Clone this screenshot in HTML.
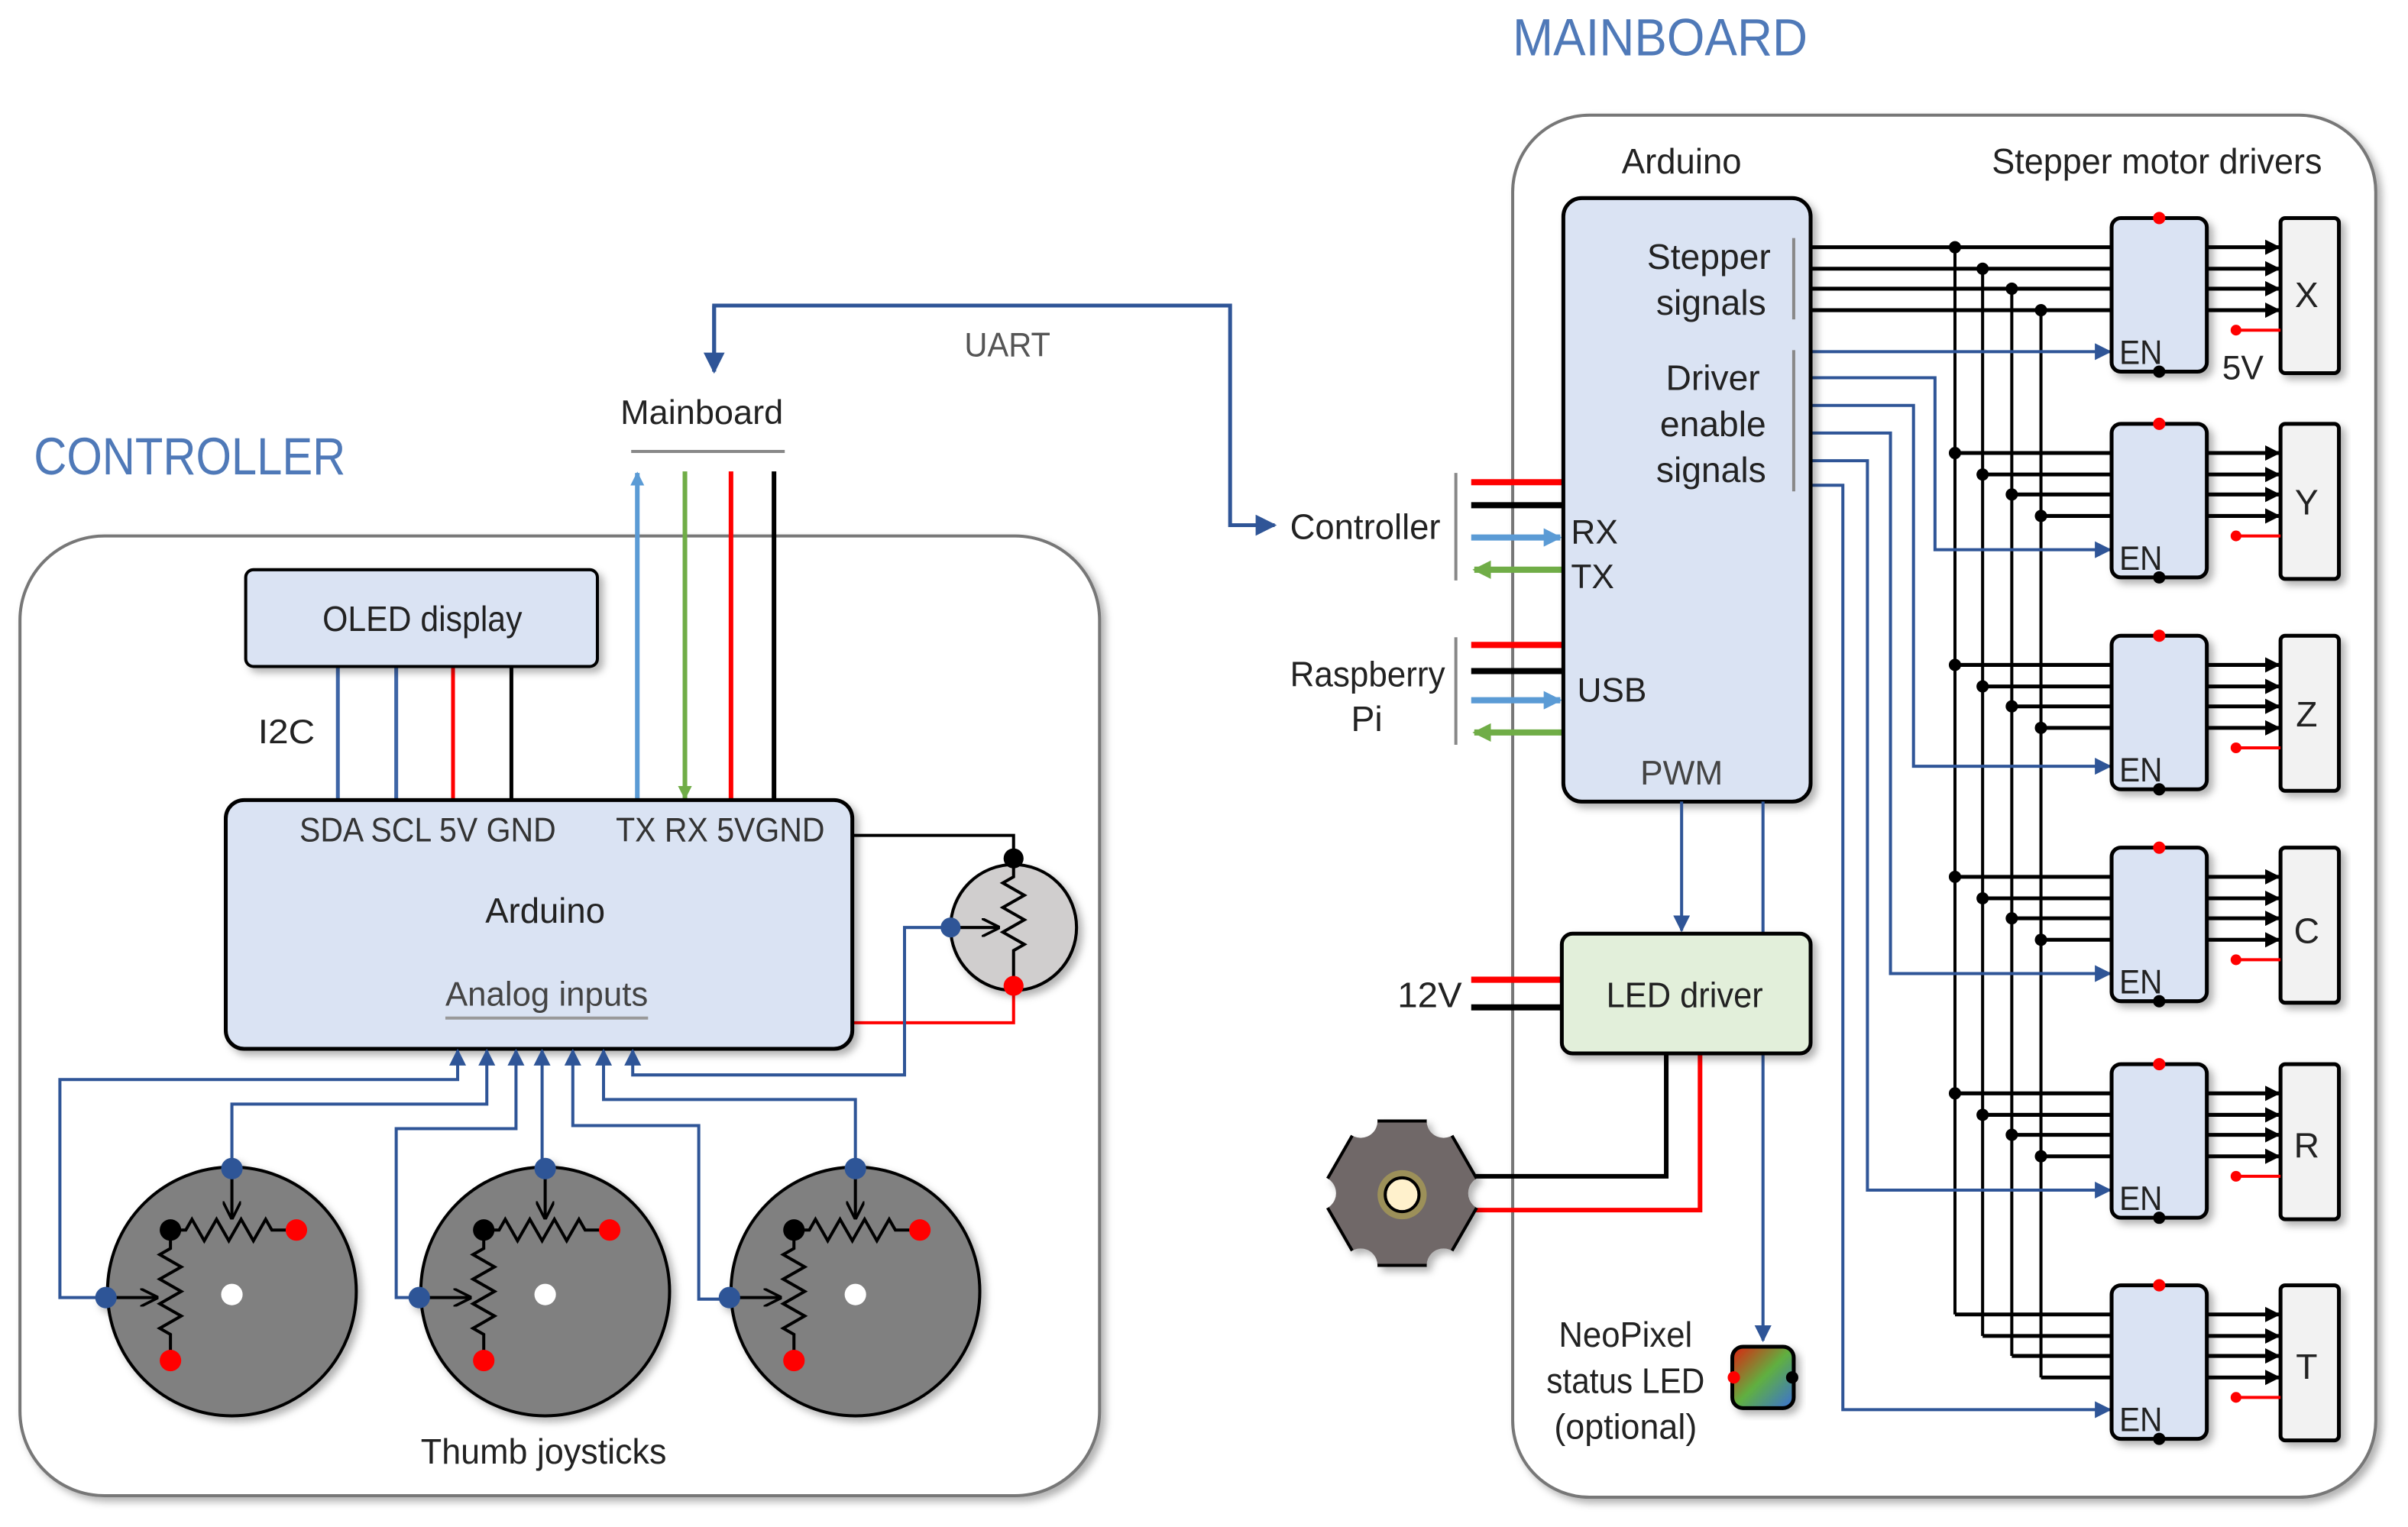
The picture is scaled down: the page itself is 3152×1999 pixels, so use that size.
<!DOCTYPE html>
<html><head><meta charset="utf-8">
<style>
html,body{margin:0;padding:0;background:#fff;}
svg{display:block;}
text{font-family:"Liberation Sans Narrow","Liberation Sans",sans-serif;fill:#222;}
</style></head>
<body>
<svg width="3152" height="1999" viewBox="0 0 1568 994.4" preserveAspectRatio="none" xmlns="http://www.w3.org/2000/svg">
<defs>
<filter id="sh" x="-10%" y="-10%" width="130%" height="130%">
<feDropShadow dx="3" dy="3" stdDeviation="2.5" flood-color="#000" flood-opacity="0.3"/>
</filter>
<marker id="ab" viewBox="0 0 10 10" refX="9" refY="5" markerWidth="5.5" markerHeight="5.5" orient="auto"><path d="M0,0 L10,5 L0,10z" fill="#2f5597"/></marker>
<marker id="ak" viewBox="0 0 10 10" refX="9" refY="5" markerWidth="4" markerHeight="4" orient="auto"><path d="M0,0 L10,5 L0,10z" fill="#000"/></marker>
<marker id="alb" viewBox="0 0 10 10" refX="9" refY="5" markerWidth="3" markerHeight="3" orient="auto"><path d="M0,0 L10,5 L0,10z" fill="#5b9bd5"/></marker>
<marker id="ag" viewBox="0 0 10 10" refX="9" refY="5" markerWidth="3" markerHeight="3" orient="auto"><path d="M0,0 L10,5 L0,10z" fill="#70ad47"/></marker>
<marker id="ov" viewBox="0 0 10 10" refX="9" refY="5" markerWidth="6" markerHeight="6" orient="auto"><path d="M0,0 L10,5 L0,10" fill="none" stroke="#000" stroke-width="1.5"/></marker>
<linearGradient id="rgb" x1="0" y1="0" x2="1" y2="1"><stop offset="0" stop-color="#e02010"/><stop offset="0.5" stop-color="#60b040"/><stop offset="1" stop-color="#3a6fd8"/></linearGradient>
<g id="joy">
<circle r="81" fill="#808080" stroke="#000" stroke-width="2"/>
<path d="M-40,-40 h10 l4,-7 l8,14 l8,-14 l8,14 l8,-14 l8,14 l8,-14 l4,7 h16" fill="none" stroke="#000" stroke-width="2"/>
<path d="M-40,-40 v12 l-7,4 l14,8 l-14,8 l14,8 l-14,8 l14,8 l-14,8 l7,4 v17" fill="none" stroke="#000" stroke-width="2"/>
<line x1="0" y1="-80" x2="0" y2="-48" stroke="#000" stroke-width="2" marker-end="url(#ov)"/>
<line x1="-82" y1="4" x2="-49" y2="4" stroke="#000" stroke-width="2" marker-end="url(#ov)"/>
<circle cx="-40" cy="-40" r="7" fill="#000"/>
<circle cx="42" cy="-40" r="7" fill="#f00"/>
<circle cx="-40" cy="45" r="7" fill="#f00"/>
<circle cx="0" cy="-80" r="7" fill="#2f5597"/>
<circle cx="-82" cy="4" r="7" fill="#2f5597"/>
<circle cx="0" cy="2" r="7" fill="#fff"/>
</g>
<g id="drv">
<rect x="1375" y="0" width="62" height="100" rx="6" fill="#dae3f3" stroke="#000" stroke-width="2.5" filter="url(#sh)"/>
<rect x="1485" y="0" width="38" height="101" rx="3" fill="#f2f2f2" stroke="#000" stroke-width="2.5" filter="url(#sh)"/>
<g stroke="#000" stroke-width="2.5" marker-end="url(#ak)">
<line x1="1437" y1="19" x2="1484" y2="19"/><line x1="1437" y1="33" x2="1484" y2="33"/>
<line x1="1437" y1="46" x2="1484" y2="46"/><line x1="1437" y1="60" x2="1484" y2="60"/>
</g>
<line x1="1456" y1="73" x2="1485" y2="73" stroke="#f00" stroke-width="2"/>
<circle cx="1456" cy="73" r="3.5" fill="#f00"/>
<circle cx="1406" cy="0" r="4" fill="#f00"/>
<circle cx="1406" cy="100" r="4" fill="#000"/>
<text x="1380" y="95" font-size="22" textLength="28" lengthAdjust="spacingAndGlyphs">EN</text>
</g>
</defs>

<!-- titles -->
<text x="985" y="36" font-size="34" textLength="192" lengthAdjust="spacingAndGlyphs" style="fill:#4f79b8">MAINBOARD</text>
<text x="22" y="309" font-size="34" textLength="203" lengthAdjust="spacingAndGlyphs" style="fill:#4f79b8">CONTROLLER</text>

<!-- controller box -->
<rect x="13" y="349" width="703" height="625" rx="55" fill="#fff" stroke="#777" stroke-width="2" filter="url(#sh)"/>

<!-- UART -->
<path d="M465,242 V199 H801 V342 H830" fill="none" stroke="#2f5597" stroke-width="2.5" marker-end="url(#ab)"/>
<path d="M465,199 V242" fill="none" stroke="#2f5597" stroke-width="2.5" marker-end="url(#ab)"/>
<text x="628" y="232" font-size="22" textLength="56" lengthAdjust="spacingAndGlyphs" style="fill:#555">UART</text>
<text x="404" y="276" font-size="22" textLength="106" lengthAdjust="spacingAndGlyphs">Mainboard</text>
<line x1="411" y1="294" x2="511" y2="294" stroke="#888" stroke-width="2"/>

<!-- controller wires to mainboard -->
<line x1="415" y1="521" x2="415" y2="308" stroke="#5b9bd5" stroke-width="3" marker-end="url(#alb)"/>
<line x1="446" y1="307" x2="446" y2="520" stroke="#70ad47" stroke-width="3" marker-end="url(#ag)"/>
<line x1="476" y1="307" x2="476" y2="521" stroke="#f00" stroke-width="3"/>
<line x1="504" y1="307" x2="504" y2="521" stroke="#000" stroke-width="3"/>

<!-- OLED -->
<line x1="220" y1="434" x2="220" y2="521" stroke="#3e65a6" stroke-width="2.5"/>
<line x1="258" y1="434" x2="258" y2="521" stroke="#3e65a6" stroke-width="2.5"/>
<line x1="295" y1="434" x2="295" y2="521" stroke="#f00" stroke-width="2.5"/>
<line x1="333" y1="434" x2="333" y2="521" stroke="#000" stroke-width="2.5"/>
<rect x="160" y="371" width="229" height="63" rx="5" fill="#dae3f3" stroke="#000" stroke-width="2" filter="url(#sh)"/>
<text x="210" y="411" font-size="23" textLength="130" lengthAdjust="spacingAndGlyphs">OLED display</text>
<text x="168" y="484" font-size="22" textLength="37" lengthAdjust="spacingAndGlyphs">I2C</text>

<!-- pot wires -->
<path d="M555,544 H660 V559" fill="none" stroke="#000" stroke-width="2"/>
<path d="M555,666 H660 V642" fill="none" stroke="#f00" stroke-width="2"/>

<!-- controller arduino -->
<rect x="147" y="521" width="408" height="162" rx="12" fill="#dae3f3" stroke="#000" stroke-width="2.5" filter="url(#sh)"/>
<text x="195" y="548" font-size="22" textLength="167" lengthAdjust="spacingAndGlyphs" style="fill:#333">SDA SCL 5V GND</text>
<text x="401" y="548" font-size="22" textLength="136" lengthAdjust="spacingAndGlyphs" style="fill:#333">TX RX 5VGND</text>
<text x="316" y="601" font-size="23" textLength="78" lengthAdjust="spacingAndGlyphs">Arduino</text>
<text x="290" y="655" font-size="22" textLength="132" lengthAdjust="spacingAndGlyphs" style="fill:#444">Analog inputs</text>
<line x1="290" y1="663" x2="422" y2="663" stroke="#999" stroke-width="2"/>

<!-- pot -->
<circle cx="660" cy="604" r="41" fill="#d0cece" stroke="#000" stroke-width="2" filter="url(#sh)"/>
<path d="M660,559 v12 l-7,4 l14,8 l-14,8 l14,8 l-14,8 l14,8 l-7,4 v21" fill="none" stroke="#000" stroke-width="2"/>
<line x1="619" y1="604" x2="650" y2="604" stroke="#000" stroke-width="2" marker-end="url(#ov)"/>
<circle cx="660" cy="559" r="6.5" fill="#000"/>
<circle cx="660" cy="642" r="6.5" fill="#f00"/>
<circle cx="619" cy="604" r="6.5" fill="#2f5597"/>

<!-- analog input wires -->
<g fill="none" stroke="#2f5597" stroke-width="2" marker-end="url(#ab)">
<path d="M69,845 H39 V703 H298 V684"/>
<path d="M151,761 V719 H317 V684"/>
<path d="M273,845 H258 V735 H336 V684"/>
<path d="M353,761 V684"/>
<path d="M476,846 H455 V733 H373 V684"/>
<path d="M557,761 V716 H393 V684"/>
<path d="M619,604 H589 V700 H412 V684"/>
</g>

<!-- joysticks -->
<use href="#joy" x="151" y="841" filter="url(#sh)"/>
<use href="#joy" x="355" y="841" filter="url(#sh)"/>
<use href="#joy" x="557" y="841" filter="url(#sh)"/>
<text x="274" y="953" font-size="23" textLength="160" lengthAdjust="spacingAndGlyphs">Thumb joysticks</text>

<!-- MAINBOARD box -->
<rect x="985" y="75" width="562" height="900" rx="50" fill="#fff" stroke="#777" stroke-width="2" filter="url(#sh)"/>
<text x="1056" y="113" font-size="23" textLength="78" lengthAdjust="spacingAndGlyphs">Arduino</text>
<text x="1297" y="113" font-size="23" textLength="215" lengthAdjust="spacingAndGlyphs">Stepper motor drivers</text>

<!-- Controller connector -->
<text x="840" y="351" font-size="23" textLength="98" lengthAdjust="spacingAndGlyphs">Controller</text>
<line x1="948" y1="308" x2="948" y2="378" stroke="#888" stroke-width="2"/>
<line x1="958" y1="314" x2="1018" y2="314" stroke="#f00" stroke-width="4"/>
<line x1="958" y1="329" x2="1018" y2="329" stroke="#000" stroke-width="4"/>
<line x1="958" y1="350" x2="1016" y2="350" stroke="#5b9bd5" stroke-width="4" marker-end="url(#alb)"/>
<line x1="1018" y1="371" x2="960" y2="371" stroke="#70ad47" stroke-width="4" marker-end="url(#ag)"/>
<text x="840" y="447" font-size="23" textLength="101" lengthAdjust="spacingAndGlyphs">Raspberry</text>
<text x="890" y="476" font-size="23" text-anchor="middle">Pi</text>
<line x1="948" y1="415" x2="948" y2="485" stroke="#888" stroke-width="2"/>
<line x1="958" y1="420" x2="1018" y2="420" stroke="#f00" stroke-width="4"/>
<line x1="958" y1="437" x2="1018" y2="437" stroke="#000" stroke-width="4"/>
<line x1="958" y1="456" x2="1016" y2="456" stroke="#5b9bd5" stroke-width="4" marker-end="url(#alb)"/>
<line x1="1018" y1="477" x2="960" y2="477" stroke="#70ad47" stroke-width="4" marker-end="url(#ag)"/>

<!-- stepper buses -->
<g stroke="#000" stroke-width="2">
<line x1="1273" y1="160" x2="1273" y2="856"/>
<line x1="1291" y1="174" x2="1291" y2="870"/>
<line x1="1310" y1="188" x2="1310" y2="883"/>
<line x1="1329" y1="201" x2="1329" y2="897"/>
</g>
<g stroke="#000" stroke-width="2.5">
<line x1="1179" y1="161" x2="1375" y2="161"/><line x1="1179" y1="175" x2="1375" y2="175"/>
<line x1="1179" y1="188" x2="1375" y2="188"/><line x1="1179" y1="202" x2="1375" y2="202"/>
</g>
<g fill="#000">
<circle cx="1273" cy="161" r="4"/><circle cx="1291" cy="175" r="4"/><circle cx="1310" cy="188" r="4"/><circle cx="1329" cy="202" r="4"/>
</g>
<g stroke="#000" stroke-width="2.5">
<line x1="1273" y1="295" x2="1376" y2="295"/><line x1="1291" y1="309" x2="1376" y2="309"/><line x1="1310" y1="322" x2="1376" y2="322"/><line x1="1329" y1="336" x2="1376" y2="336"/>
<line x1="1273" y1="433" x2="1376" y2="433"/><line x1="1291" y1="447" x2="1376" y2="447"/><line x1="1310" y1="460" x2="1376" y2="460"/><line x1="1329" y1="474" x2="1376" y2="474"/>
<line x1="1273" y1="571" x2="1376" y2="571"/><line x1="1291" y1="585" x2="1376" y2="585"/><line x1="1310" y1="598" x2="1376" y2="598"/><line x1="1329" y1="612" x2="1376" y2="612"/>
<line x1="1273" y1="712" x2="1376" y2="712"/><line x1="1291" y1="726" x2="1376" y2="726"/><line x1="1310" y1="739" x2="1376" y2="739"/><line x1="1329" y1="753" x2="1376" y2="753"/>
<line x1="1273" y1="856" x2="1376" y2="856"/><line x1="1291" y1="870" x2="1376" y2="870"/><line x1="1310" y1="883" x2="1376" y2="883"/><line x1="1329" y1="897" x2="1376" y2="897"/>
</g>
<g fill="#000">
<circle cx="1273" cy="295" r="4"/><circle cx="1291" cy="309" r="4"/><circle cx="1310" cy="322" r="4"/><circle cx="1329" cy="336" r="4"/>
<circle cx="1273" cy="433" r="4"/><circle cx="1291" cy="447" r="4"/><circle cx="1310" cy="460" r="4"/><circle cx="1329" cy="474" r="4"/>
<circle cx="1273" cy="571" r="4"/><circle cx="1291" cy="585" r="4"/><circle cx="1310" cy="598" r="4"/><circle cx="1329" cy="612" r="4"/>
<circle cx="1273" cy="712" r="4"/><circle cx="1291" cy="726" r="4"/><circle cx="1310" cy="739" r="4"/><circle cx="1329" cy="753" r="4"/>
</g>

<!-- enable lines -->
<g fill="none" stroke="#2f5597" stroke-width="2" marker-end="url(#ab)">
<path d="M1179,229 H1374"/>
<path d="M1179,246 H1260 V358 H1374"/>
<path d="M1179,264 H1246 V499 H1374"/>
<path d="M1179,282 H1231 V634 H1374"/>
<path d="M1179,300 H1216 V775 H1374"/>
<path d="M1179,316 H1200 V918 H1374"/>
</g>

<!-- drivers -->
<use href="#drv" y="142"/>
<use href="#drv" y="276"/>
<use href="#drv" y="414"/>
<use href="#drv" y="552"/>
<use href="#drv" y="693"/>
<use href="#drv" y="837"/>
<g font-size="23" text-anchor="middle">
<text x="1502" y="200">X</text><text x="1502" y="335">Y</text><text x="1502" y="473">Z</text>
<text x="1502" y="614">C</text><text x="1502" y="754">R</text><text x="1502" y="898">T</text>
</g>
<text x="1447" y="247" font-size="22" textLength="27" lengthAdjust="spacingAndGlyphs">5V</text>

<!-- mainboard arduino -->
<rect x="1018" y="129" width="161" height="393" rx="12" fill="#dae3f3" stroke="#000" stroke-width="2.5" filter="url(#sh)"/>
<g font-size="23" style="fill:#444" text-anchor="end">
<text x="1153" y="175">Stepper</text><text x="1150" y="205">signals</text>
<text x="1146" y="254">Driver</text><text x="1150" y="284">enable</text><text x="1150" y="314">signals</text>
</g>
<line x1="1168" y1="155" x2="1168" y2="208" stroke="#888" stroke-width="2"/>
<line x1="1168" y1="228" x2="1168" y2="320" stroke="#888" stroke-width="2"/>
<g font-size="22" style="fill:#444">
<text x="1023" y="354">RX</text><text x="1023" y="383">TX</text><text x="1027" y="457">USB</text>
</g>
<text x="1095" y="511" font-size="22" text-anchor="middle" style="fill:#444">PWM</text>

<!-- PWM / neopixel -->
<line x1="1095" y1="522" x2="1095" y2="606" stroke="#2f5597" stroke-width="2" marker-end="url(#ab)"/>
<line x1="1148" y1="522" x2="1148" y2="873" stroke="#2f5597" stroke-width="2" marker-end="url(#ab)"/>

<!-- 12V -->
<text x="910" y="656" font-size="23" textLength="42" lengthAdjust="spacingAndGlyphs">12V</text>
<line x1="958" y1="638" x2="1017" y2="638" stroke="#f00" stroke-width="4"/>
<line x1="958" y1="656" x2="1017" y2="656" stroke="#000" stroke-width="4"/>

<!-- LED wires -->
<path d="M1085,686 V766 H955" fill="none" stroke="#000" stroke-width="3"/>
<path d="M1107,686 V788 H955" fill="none" stroke="#f00" stroke-width="3"/>

<!-- LED driver -->
<rect x="1017" y="608" width="162" height="78" rx="7" fill="#e2efda" stroke="#000" stroke-width="2.5" filter="url(#sh)"/>
<text x="1046" y="656" font-size="23" textLength="102" lengthAdjust="spacingAndGlyphs">LED driver</text>

<!-- star LED -->
<g filter="url(#sh)">
<mask id="nm"><rect x="850" y="710" width="130" height="140" fill="#fff"/>
<circle cx="967" cy="777" r="11" fill="#000"/><circle cx="940" cy="730" r="11" fill="#000"/><circle cx="886" cy="730" r="11" fill="#000"/>
<circle cx="859" cy="777" r="11" fill="#000"/><circle cx="886" cy="824" r="11" fill="#000"/><circle cx="940" cy="824" r="11" fill="#000"/></mask>
<polygon points="967,777 940,730 886,730 859,777 886,824 940,824" fill="#6f6868" stroke="#000" stroke-width="2" mask="url(#nm)"/>
</g>
<circle cx="913" cy="778" r="16" fill="#c8b84a" opacity="0.5"/>
<circle cx="913" cy="778" r="11" fill="#fff1cc" stroke="#000" stroke-width="2"/>

<!-- NeoPixel -->
<g font-size="23" style="fill:#444">
<text x="1015" y="877" textLength="87" lengthAdjust="spacingAndGlyphs">NeoPixel</text>
<text x="1007" y="907" textLength="103" lengthAdjust="spacingAndGlyphs" style="fill:#222">status LED</text>
<text x="1012" y="937" textLength="93" lengthAdjust="spacingAndGlyphs">(optional)</text>
</g>
<rect x="1128" y="877" width="40" height="40" rx="7" fill="url(#rgb)" stroke="#000" stroke-width="2.5" filter="url(#sh)"/>
<circle cx="1129" cy="897" r="4" fill="#f00"/>
<circle cx="1167" cy="897" r="4" fill="#000"/>
</svg>
</body></html>
